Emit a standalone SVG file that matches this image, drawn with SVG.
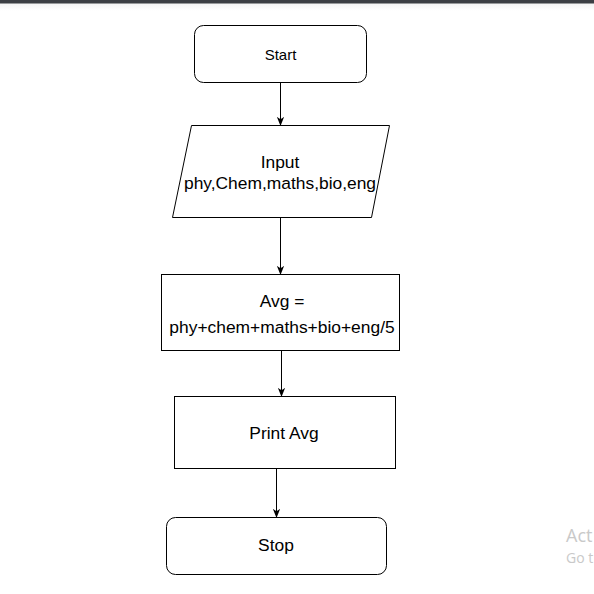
<svg xmlns="http://www.w3.org/2000/svg" width="594" height="594" viewBox="0 0 594 594">
<style>
.shape{fill:#fff;stroke:#000;stroke-width:1}
.t{font-family:"Liberation Sans",Arial,sans-serif;font-size:17.4px;fill:#000;text-anchor:middle}
.c{stroke:#000;stroke-width:1;fill:none;marker-end:url(#ah)}
.wm{font-family:"Open Sans","Noto Sans",sans-serif;fill:#c9c9c9}
</style>
<defs>
<marker id="ah" viewBox="0 0 10 10" refX="9" refY="5" markerWidth="9" markerHeight="9" markerUnits="userSpaceOnUse" orient="auto">
<path d="M0,1 L10,5 L0,9 L2.5,5 Z" fill="#000"/>
</marker>
<linearGradient id="tg" x1="0" y1="0" x2="0" y2="1">
<stop offset="0" stop-color="#f2f2f2"/>
<stop offset="1" stop-color="#ffffff"/>
</linearGradient>
</defs>
<rect x="0" y="0" width="594" height="594" fill="#fff"/>
<rect x="0" y="3" width="594" height="8" fill="url(#tg)"/>
<rect x="0" y="0" width="594" height="3.5" fill="#3b3e43"/>
<g id="connectors">
<path class="c" d="M280.5,83 L280.5,125"/>
<path class="c" d="M280.5,218 L280.5,274"/>
<path class="c" d="M281.5,350 L281.5,396"/>
<path class="c" d="M276.5,468 L276.5,517"/>
</g>
<g id="start">
<rect class="shape" x="194.5" y="25.5" width="172" height="57" rx="9"/>
<text class="t" x="280.5" y="59.5" style="font-size:15px">Start</text>
</g>
<g id="input">
<polygon class="shape" points="191.5,125.5 389.5,125.5 371.5,217.5 172.5,217.5"/>
<text class="t" x="280" y="168">Input</text>
<text class="t" x="280" y="189">phy,Chem,maths,bio,eng</text>
</g>
<g id="avg">
<rect class="shape" x="161.5" y="274.5" width="238" height="76"/>
<text class="t" x="282" y="307">Avg =</text>
<text class="t" x="282" y="333">phy+chem+maths+bio+eng/5</text>
</g>
<g id="print">
<rect class="shape" x="174.5" y="396.5" width="221" height="72"/>
<text class="t" x="284" y="439">Print Avg</text>
</g>
<g id="stop">
<rect class="shape" x="166.5" y="517.5" width="220" height="57" rx="9"/>
<text class="t" x="276" y="551">Stop</text>
</g>
<text class="wm" x="566" y="542" style="font-size:18px">Act</text>
<text class="wm" x="566" y="563" style="font-size:14px">Go t</text>
</svg>
